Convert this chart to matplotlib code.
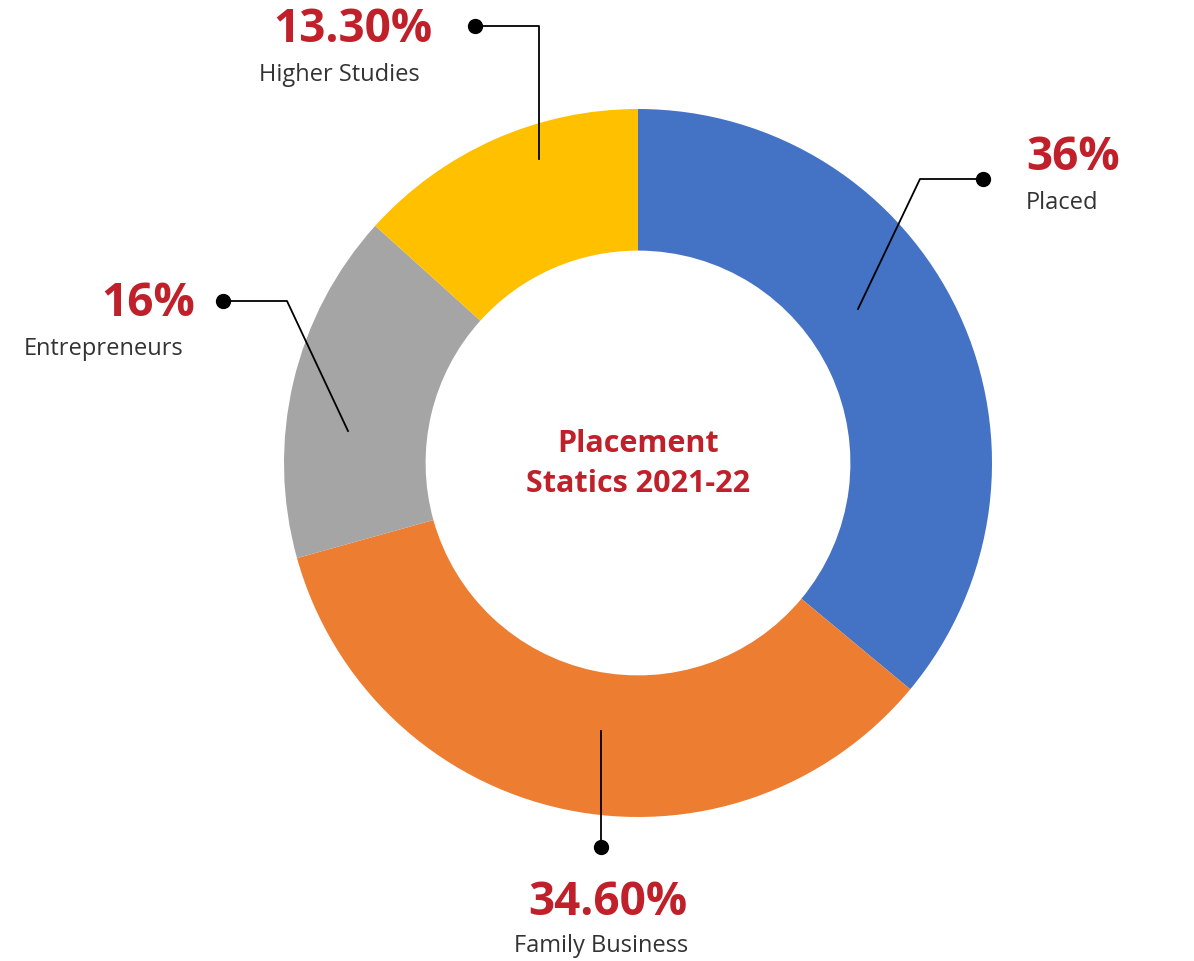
import matplotlib
matplotlib.use("Agg")
import matplotlib.pyplot as plt

labels = ["Placed", "Family Business", "Entrepreneurs", "Higher Studies"]
values = [36.0, 34.6, 16.0, 13.3]
pct_text = ["36%", "34.60%", "16%", "13.30%"]
colors = ["#4472C4", "#ED7D31", "#A5A5A5", "#FFC000"]
title = "Placement\nStatics 2021-22"

W, H = 1194, 962
fig = plt.figure(figsize=(W/100, H/100), dpi=100)
ax = fig.add_axes([0, 0, 1, 1])
ax.set_xlim(0, W); ax.set_ylim(0, H); ax.set_aspect("equal"); ax.axis("off")
def Y(y): return H - y

cx, cy, R = 638, Y(464), 354
ax.pie(values, colors=colors, startangle=90, counterclock=False, center=(cx, cy),
       radius=R, wedgeprops=dict(width=R*0.4, edgecolor="none"), frame=True)
ax.set_xlim(0, W); ax.set_ylim(0, H); ax.axis("off")

red = "#C0202A"; grey = "#333333"; fam = "Montserrat"
fam = ["Open Sans", "DejaVu Sans"]
ax.text(cx, cy, title, ha="center", va="center", color=red, fontsize=22,
        fontweight="bold", family=fam, linespacing=1.45)

leaders = [
    [(858, 310), (920, 180), (983, 180)],
    [(601, 732), (601, 848)],
    [(348, 432), (287, 302), (223, 302)],
    [(539, 160), (539, 27), (475, 27)],
]
for pts in leaders:
    xs = [p[0] for p in pts]; ys = [Y(p[1]) for p in pts]
    ax.plot(xs, ys, color="black", lw=1.3)
    ax.plot(xs[-1], ys[-1], "o", color="black", ms=10)

txt = [  # (x, y_pct, y_label, ha)
    (1026, 158, 203, "left"),
    (608, 903, 946, "center"),
    (195, 304, 349, "right"),
    (432, 30, 75, "right"),
]
lab_x = [1026, 601, 183, 420]
for i, (x, yp, yl, ha) in enumerate(txt):
    ax.text(x, Y(yp), pct_text[i], ha=ha, va="center", color=red, fontsize=33,
            fontweight="bold", family=fam)
    ax.text(lab_x[i], Y(yl), labels[i], ha=ha, va="center", color=grey,
            fontsize=17, family=fam)

fig.savefig("out.png", dpi=100)
